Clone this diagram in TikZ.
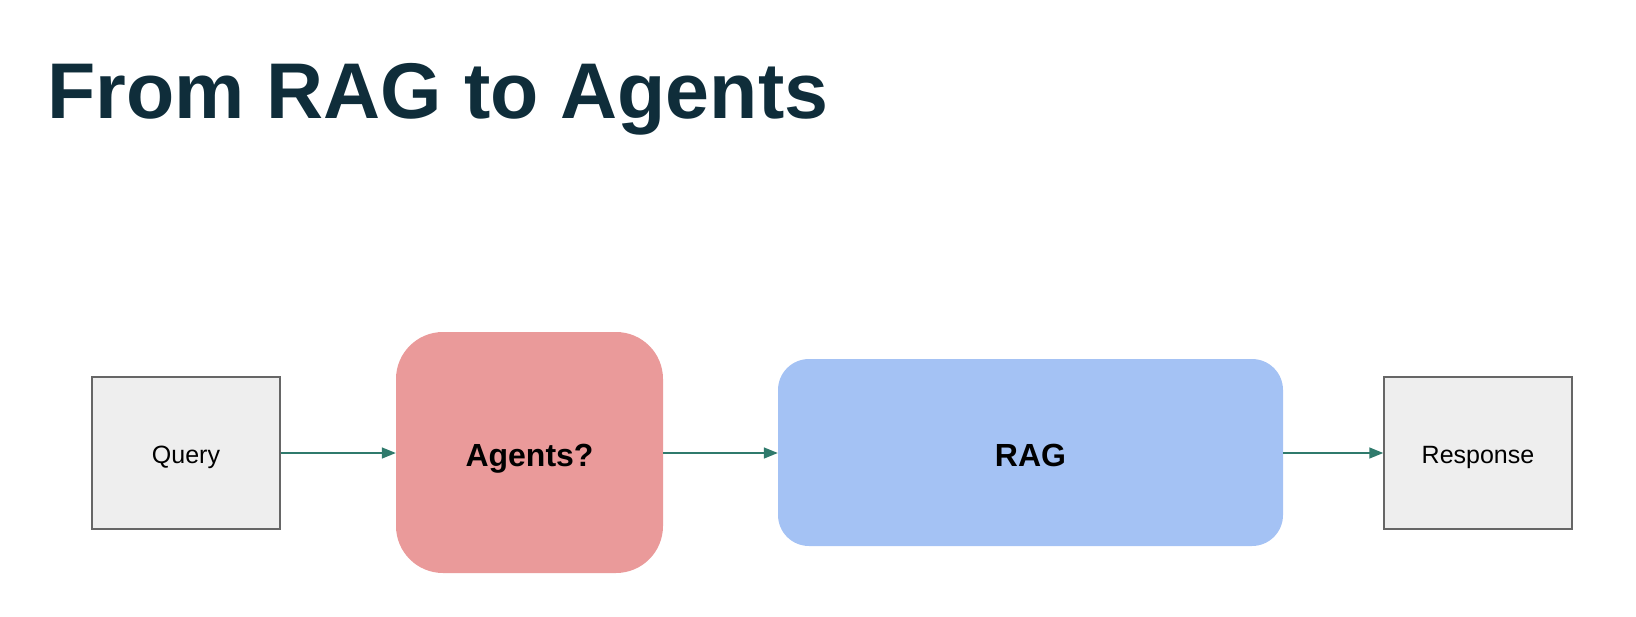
\documentclass[tikz,border=0pt]{standalone}
\usepackage{fontspec}
\setmainfont{Liberation Sans}
\usetikzlibrary{arrows.meta}
\definecolor{titlecol}{HTML}{0F2D3A}
\definecolor{agentfill}{HTML}{EA9A9A}
\definecolor{ragfill}{HTML}{A4C2F4}
\definecolor{iofill}{HTML}{EEEEEE}
\definecolor{iodraw}{HTML}{666666}
\definecolor{arrowcol}{HTML}{2F7A6C}
\tikzset{
  iobox/.style={draw=iodraw, line width=1.5pt, fill=iofill, minimum width=188pt, minimum height=152pt, inner sep=0pt, text height=21pt, text depth=0pt, font=\fontsize{25}{30}\selectfont},
  agentbox/.style={fill=agentfill, rounded corners=47pt, minimum width=267pt, minimum height=241pt, inner sep=0pt, text height=28pt, text depth=0pt, font=\bfseries\fontsize{32}{38}\selectfont},
  ragbox/.style={fill=ragfill, rounded corners=31pt, minimum width=505pt, minimum height=187pt, inner sep=0pt, text height=28pt, text depth=0pt, font=\bfseries\fontsize{32}{38}\selectfont},
  flow/.style={draw=arrowcol, line width=1.5pt, -{Triangle[length=14pt,width=11pt]}},
}
\begin{document}
\begin{tikzpicture}[x=1pt,y=-1pt]
\useasboundingbox (0,0) rectangle (1636,616);
\node[anchor=base west, inner sep=0pt, text=titlecol, font=\bfseries\fontsize{79}{90}\selectfont] (title) at (47,118) {From RAG to Agents};
\node[iobox] (query) at (186,453) {Query};
\node[agentbox] (agents) at (529.5,452.5) {Agents?};
\node[ragbox] (rag) at (1030.5,452.5) {RAG};
\node[iobox] (response) at (1478,453) {Response};
\draw[flow] (query.east) -- (agents.west |- query.east);
\draw[flow] (agents.east |- query.east) -- (rag.west |- query.east);
\draw[flow] (rag.east |- query.east) -- (response.west);
\end{tikzpicture}
\end{document}
